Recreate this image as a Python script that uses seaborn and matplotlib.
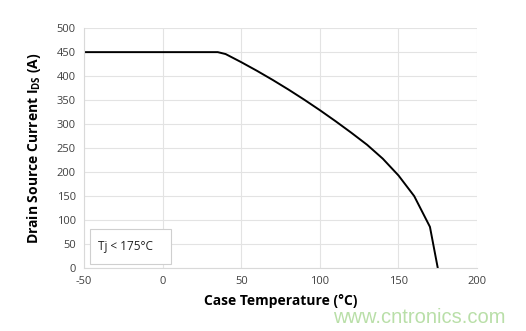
import matplotlib
matplotlib.use("Agg")
import matplotlib.pyplot as plt
import seaborn as sns
import pandas as pd
from matplotlib.patches import Rectangle

# Derating curve: maximum drain-source current vs case temperature
case_temp_c = [-50, 35, 40, 50, 60, 70, 80, 90, 100, 110, 120, 130, 140, 150, 160, 170, 175]
drain_current_a = [450, 450, 446, 429, 411, 392, 372, 351, 329, 306, 282, 257, 228, 193, 150, 86, 0]

x_ticks = [-50, 0, 50, 100, 150, 200]
y_ticks = [0, 50, 100, 150, 200, 250, 300, 350, 400, 450, 500]

df = pd.DataFrame({"temp": case_temp_c, "current": drain_current_a})

sns.set_theme(style="white")
plt.rcParams["font.family"] = ["Open Sans", "DejaVu Sans"]
plt.rcParams["axes.unicode_minus"] = False

fig = plt.figure(figsize=(5.26, 3.31), dpi=100)
ax = fig.add_axes([0.16, 0.19, 0.747, 0.725])

sns.lineplot(data=df, x="temp", y="current", ax=ax, color="black", linewidth=1.4)

ax.set_xlim(-50, 200)
ax.set_ylim(0, 500)
ax.set_xticks(x_ticks)
ax.set_yticks(y_ticks)
ax.grid(True, color="#e3e3e3", linewidth=0.8)
ax.set_axisbelow(True)
for side in ["top", "right"]:
    ax.spines[side].set_visible(False)
for side in ["left", "bottom"]:
    ax.spines[side].set_color("#d9d9d9")
    ax.spines[side].set_linewidth(0.8)
ax.tick_params(axis="both", labelsize=8, colors="#404040", length=0, pad=6)

ax.set_xlabel("Case Temperature (°C)", fontsize=10, fontweight="bold", color="black", labelpad=5)
ax.set_ylabel(r"Drain Source Current I$_{\mathregular{DS}}$ (A)", fontsize=10,
              fontweight="bold", color="black", labelpad=10)

# Operating condition note
ax.add_patch(Rectangle((-46, 8), 51.5, 73, facecolor="white", edgecolor="#cfcfcf",
                       linewidth=0.8, zorder=3))
ax.text(-41, 44, "Tj < 175°C", fontsize=8.5, color="#222222", va="center", ha="left", zorder=4)

fig.text(0.962, 0.012, "www.cntronics.com", fontsize=14.5, color="#b9dfa8",
         ha="right", va="bottom", family=["Liberation Sans", "DejaVu Sans"])

fig.savefig("out.png", dpi=100)
